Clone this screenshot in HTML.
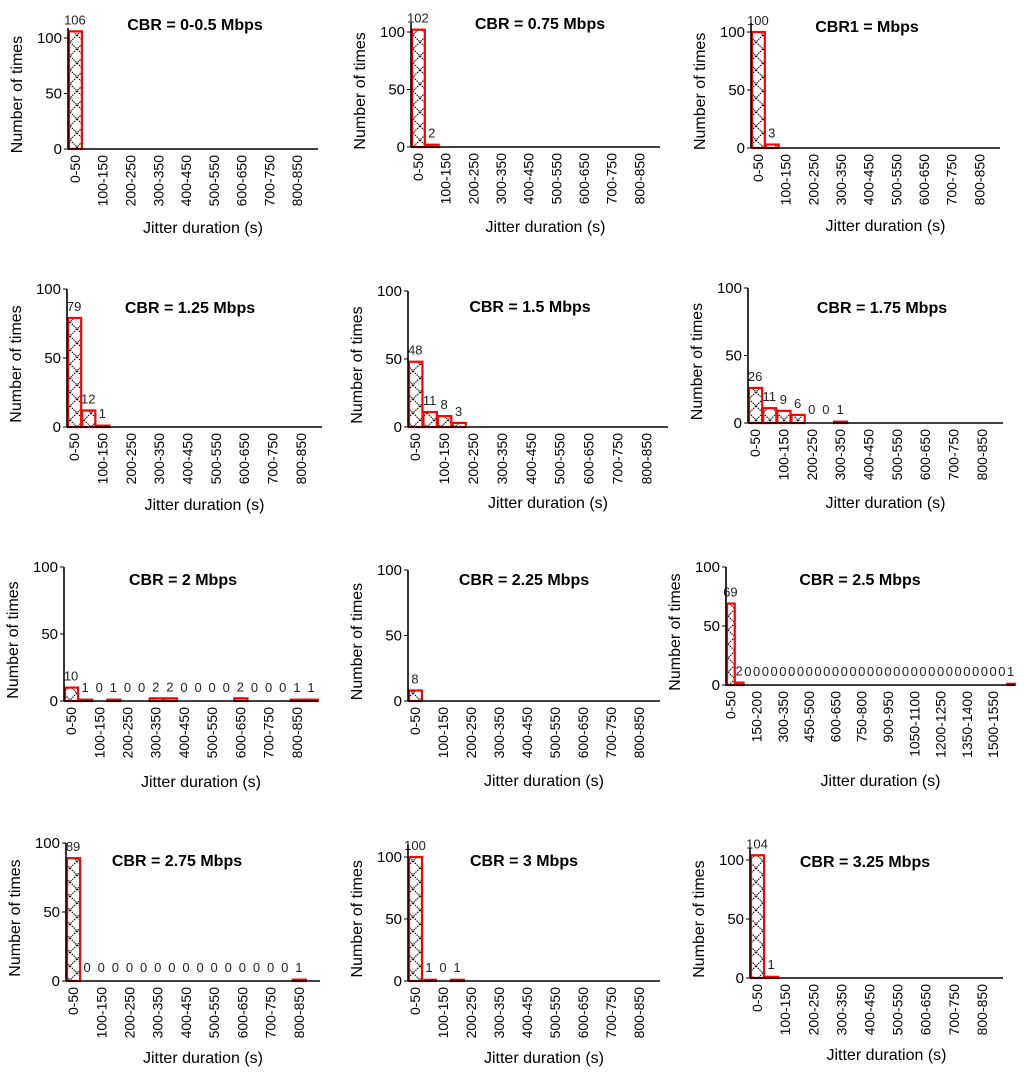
<!DOCTYPE html>
<html><head><meta charset="utf-8"><style>
html,body{margin:0;padding:0;background:#fff;}
svg{display:block;font-family:"Liberation Sans",sans-serif;}
</style></head><body>
<svg id="fig" width="1024" height="1077" viewBox="0 0 1024 1077" xmlns="http://www.w3.org/2000/svg">
<defs>
<pattern id="hatch" patternUnits="userSpaceOnUse" width="14" height="14">
<rect width="14" height="14" fill="#fff"/>
<path d="M0,0 L14,14 M14,0 L0,14" stroke="#000" stroke-width="1.1" stroke-dasharray="1.5,1"/>
</pattern>
</defs>
</svg>
<script>
const cats18 = ['0-50','50-100','100-150','150-200','200-250','250-300','300-350','350-400','400-450','450-500','500-550','550-600','600-650','650-700','700-750','750-800','800-850','850-900'];
const cats33 = ['0-50','50-100','100-150','150-200','200-250','250-300','300-350','350-400','400-450','450-500','500-550','550-600','600-650','650-700','700-750','750-800','800-850','850-900','900-950','950-1000','1000-1050','1050-1100','1100-1150','1150-1200','1200-1250','1250-1300','1300-1350','1350-1400','1400-1450','1450-1500','1500-1550','1550-1600','1600-1650'];
const yTicks = [0, 50, 100];
const titles = ['CBR = 0-0.5 Mbps','CBR = 0.75 Mbps','CBR1 = Mbps','CBR = 1.25 Mbps','CBR = 1.5 Mbps','CBR = 1.75 Mbps','CBR = 2 Mbps','CBR = 2.25 Mbps','CBR = 2.5 Mbps','CBR = 2.75 Mbps','CBR = 3 Mbps','CBR = 3.25 Mbps'];
const vals1 = [106];
const vals2 = [102, 2];
const vals3 = [100, 3];
const vals4 = [79, 12, 1];
const vals5 = [48, 11, 8, 3];
const vals6 = [26, 11, 9, 6, 0, 0, 1];
const vals7 = [10, 1, 0, 1, 0, 0, 2, 2, 0, 0, 0, 0, 2, 0, 0, 0, 1, 1];
const vals8 = [8];
const vals9 = [69, 2, 0,0,0,0,0,0,0,0,0,0,0,0,0,0,0,0,0,0,0,0,0,0,0,0,0,0,0,0,0,0, 1];
const vals10 = [89, 0,0,0,0,0,0,0,0,0,0,0,0,0,0,0, 1];
const vals11 = [100, 1, 0, 1];
const vals12 = [104, 1];
const allVals = [vals1,vals2,vals3,vals4,vals5,vals6,vals7,vals8,vals9,vals10,vals11,vals12];

// layout (pixel geometry)
const layout = [
 {x:68,r:318,base:149,y100:38,top:109,tx:195,ty:30,xl:228,cats:cats18,step:2},
 {x:411,r:660,base:147,y100:32,top:108,tx:540,ty:29,xl:227,cats:cats18,step:2},
 {x:751,r:1000,base:148,y100:32,top:108,tx:867,ty:32,xl:226,cats:cats18,step:2},
 {x:67,r:322,base:427,y100:289,top:100,tx:190,ty:313,xl:505,cats:cats18,step:2},
 {x:408,r:668,base:427,y100:291,top:100,tx:530,ty:312,xl:503,cats:cats18,step:2},
 {x:748,r:1003,base:423,y100:288,top:100,tx:882,ty:313,xl:503,cats:cats18,step:2},
 {x:64,r:318,base:701,y100:567,top:100,tx:183,ty:585,xl:782,cats:cats18,step:2},
 {x:408,r:660,base:701,y100:570,top:100,tx:524,ty:585,xl:781,cats:cats18,step:2},
 {x:726,r:1015,base:685,y100:567,top:100,tx:860,ty:585,xl:781,cats:cats33,step:3},
 {x:66,r:320,base:981,y100:843,top:100,tx:177,ty:866,xl:1058,cats:cats18,step:2},
 {x:408,r:660,base:981,y100:857,top:110,tx:524,ty:866,xl:1058,cats:cats18,step:2},
 {x:750,r:1003,base:978,y100:860,top:110,tx:865,ty:867,xl:1055,cats:cats18,step:2}
];
const NS='http://www.w3.org/2000/svg';
const svg=document.getElementById('fig');
function mk(tag, attrs, parent){const e=document.createElementNS(NS,tag);for(const k in attrs)e.setAttribute(k,attrs[k]);(parent||svg).appendChild(e);return e;}

layout.forEach((L,pi)=>{
  const vals=allVals[pi];
  const g=mk('g',{});
  
  
  const n=L.cats.length;
  const slot=(L.r-L.x)/n;
  const y=v=>L.base-v*(L.base-L.y100)/100;
  const xc=i=>L.x+slot*(i+0.5);
  vals.forEach((v,i)=>{
    if(v<=0) return;
    const b=mk('rect',{x:L.x+slot*i+1,y:y(v),width:slot-1,height:L.base-y(v),fill:'url(#hatch)',stroke:'#ff0000','stroke-width':2.2},g);
    
    
  });
  vals.forEach((v,i)=>{
    const t=mk('text',{x:xc(i),y:Math.min(y(v),L.base-2)-7,'font-size':13,'text-anchor':'middle',fill:'#222'},g);
    t.textContent=String(v);
    
    
  });
  const ya=mk('line',{x1:L.x,y1:y(L.top),x2:L.x,y2:L.base,stroke:'#000','stroke-width':1.6},g);
  
  
  const xa=mk('line',{x1:L.x,y1:L.base,x2:L.r,y2:L.base,stroke:'#000','stroke-width':1.6},g);
  
  
  yTicks.forEach(tv=>{
    mk('line',{x1:L.x-4,y1:y(tv),x2:L.x,y2:y(tv),stroke:'#000','stroke-width':1},g);
    const t=mk('text',{x:L.x-6,y:y(tv)+5,'font-size':15,'text-anchor':'end',fill:'#000'},g);
    t.textContent=String(tv);
    
    
  });
  L.cats.forEach((c,i)=>{
    if(i%L.step) return;
    const px=xc(i)+5, py=L.base+6;
    const t=mk('text',{x:px,y:py,'font-size':14,'text-anchor':'end',transform:'rotate(-90 '+px+' '+py+')',fill:'#000'},g);
    t.textContent=c;
    
    
  });
  const tt=mk('text',{x:L.tx,y:L.ty,'font-size':16,'font-weight':'bold','text-anchor':'middle',fill:'#000'},g);
  tt.textContent=titles[pi];
  
  
  const xt=mk('text',{x:(L.x+L.r)/2+10,y:L.xl+5,'font-size':16,'text-anchor':'middle',fill:'#000'},g);
  xt.textContent='Jitter duration (s)';
  
  
  const yx=L.x-46, yy=(y(L.top)+L.base)/2+6;
  const yt=mk('text',{x:yx,y:yy,'font-size':16,'text-anchor':'middle',transform:'rotate(-90 '+yx+' '+yy+')',fill:'#000'},g);
  yt.textContent='Number of times';
  
  
});
</script>
</body></html>
